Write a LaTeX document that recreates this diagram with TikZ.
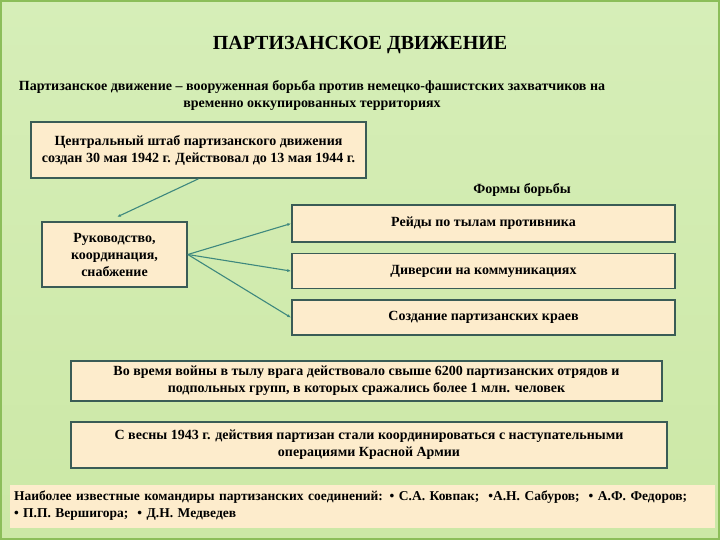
\documentclass[tikz,border=0pt]{standalone}
\usepackage{fontspec}
\setmainfont{Liberation Serif}
\usetikzlibrary{positioning,arrows.meta}
\definecolor{bgtop}{RGB}{214,238,184}
\definecolor{bgbot}{RGB}{204,232,166}
\definecolor{frame}{RGB}{140,190,90}
\definecolor{cream}{RGB}{253,236,204}
\definecolor{boxline}{RGB}{58,92,86}
\definecolor{linkcol}{RGB}{62,136,126}

\begin{document}
\begin{tikzpicture}[
            x=1pt, y=-1pt,
            every node/.style={font=\fontsize{14}{17}\selectfont\bfseries},
            block/.style={rectangle, draw=boxline, fill=cream, line width=1.6pt, align=center, inner sep=2pt},
            link/.style={draw=linkcol, line width=1.1pt, -{Latex[length=4pt,width=3pt]}}
        ]
        \shade[top color=bgtop, bottom color=bgbot] (0,0) rectangle (720,540);
        \draw[frame, line width=2pt] (1,1) rectangle (719,539);
        \useasboundingbox (0,0) rectangle (720,540);
        \node[font=\fontsize{20}{22}\selectfont\bfseries] (title) at (360,45) {ПАРТИЗАНСКОЕ ДВИЖЕНИЕ};
        \node[align=center] (defn) at (312,96) {Партизанское движение -- вооруженная борьба против немецко-фашистских захватчиков на\\ временно оккупированных территориях};
        \node[block, minimum width=335, minimum height=56] (staff) at (198.5,150) {Центральный штаб партизанского движения\\ создан 30 мая 1942 г. Действовал до 13 мая 1944 г.};
        \node[block, minimum width=145, minimum height=65] (lead) at (114.5,254.5) {Руководство,\\ координация,\\ снабжение};
        \node (forms) at (522,190) {Формы борьбы};
        \node[block, minimum width=383, minimum height=37] (raids) at (483.5,223.5) {Рейды по тылам противника};
        \node[block, minimum width=383, minimum height=35, below=10pt of raids] (sabot) {Диверсии на коммуникациях};
        \node[block, minimum width=383, minimum height=35, below=10pt of sabot] (areas) {Создание партизанских краев};
        \node[block, minimum width=591, minimum height=40] (units) at (366.5,381) {Во время войны в тылу врага действовало свыше 6200 партизанских отрядов и\\ подпольных групп, в которых сражались более 1 млн. человек};
        \node[block, minimum width=596, minimum height=46] (army) at (369,445) {С весны 1943 г. действия партизан стали координироваться с наступательными\\ операциями Красной Армии};
        \node[fill=cream, minimum width=705, minimum height=43, text width=697, align=left, inner sep=4pt,
              font=\fontsize{13.5}{17}\selectfont\bfseries] (leaders) at (362.5,506) {Наиболее известные командиры партизанских соединений: • С.А. Ковпак;\ \ •А.Н. Сабуров;\ \ • А.Ф. Федоров;\\ •\ П.П. Вершигора;\ \ • Д.Н. Медведев};
        \draw[link] (staff.south) -- (117,217);
        \draw[link] (lead.east) -- (raids.west);
        \draw[link] (lead.east) -- (sabot.west);
        \draw[link] (lead.east) -- (areas.west);
        \end{tikzpicture}
\end{document}
